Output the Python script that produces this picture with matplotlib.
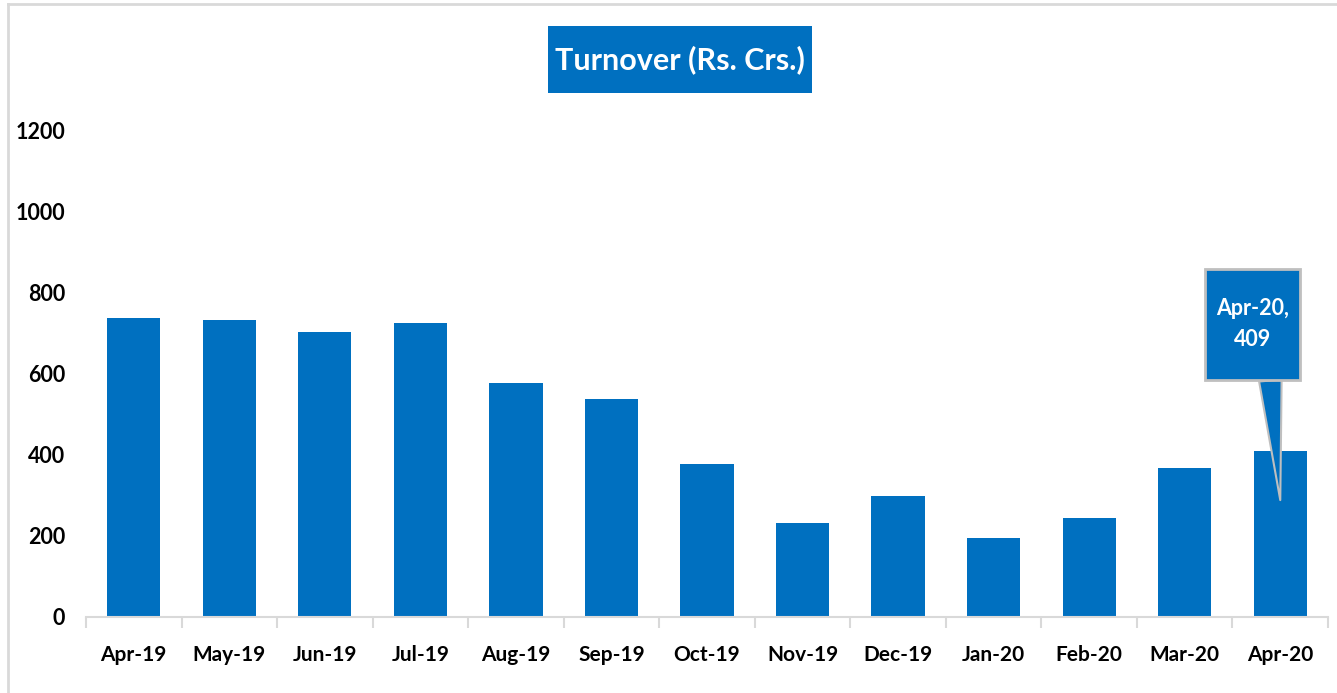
import matplotlib
matplotlib.use("Agg")
import matplotlib.pyplot as plt
from matplotlib.lines import Line2D
from matplotlib.path import Path
from matplotlib.ticker import FixedLocator

months = ["Apr-19", "May-19", "Jun-19", "Jul-19", "Aug-19", "Sep-19", "Oct-19",
          "Nov-19", "Dec-19", "Jan-20", "Feb-20", "Mar-20", "Apr-20"]
turnover = [736, 731, 702, 724, 576, 536, 376, 231, 298, 195, 243, 368, 409]
y_ticks = [0, 200, 400, 600, 800, 1000, 1200]

BLUE = "#0070C0"
GREY = "#D9D9D9"

plt.rcParams["font.family"] = ["Lato", "DejaVu Sans"]
plt.rcParams["font.weight"] = "bold"


def box(padx, pady):
    # rectangle with separate horizontal / vertical padding (in fontsize units)
    def style(x0, y0, width, height, mutation_size):
        dx, dy = padx * mutation_size, pady * mutation_size
        x0, y0 = x0 - dx, y0 - dy
        x1, y1 = x0 + width + 2 * dx, y0 + height + 2 * dy
        return Path([(x0, y0), (x1, y0), (x1, y1), (x0, y1), (x0, y0)], closed=True)
    return style


fig = plt.figure(figsize=(13.37, 6.93), dpi=100)
ax = fig.add_axes([0.0643, 0.1097, 0.9290, 0.7027])

x = list(range(len(months)))
ax.bar(x, turnover, width=0.557, color=BLUE, zorder=2)

ax.set_xlim(-0.5, len(months) - 0.5)
ax.set_ylim(0, 1200)
ax.set_yticks(y_ticks)
ax.set_yticklabels([str(v) for v in y_ticks], fontsize=15.5, fontweight="bold")
ax.set_xticks(x)
ax.set_xticklabels(months, fontsize=15, fontweight="bold")

# category separators on the x axis
ax.xaxis.set_minor_locator(FixedLocator([i - 0.5 for i in range(len(months) + 1)]))
ax.tick_params(axis="x", which="minor", length=8, width=1.5, color=GREY)
ax.tick_params(axis="x", which="major", length=0, pad=20)
ax.tick_params(axis="y", length=0, pad=15)

for side in ["top", "right", "left"]:
    ax.spines[side].set_visible(False)
ax.spines["bottom"].set_color(GREY)
ax.spines["bottom"].set_linewidth(1.5)

# title in a filled box
fig.text(0.5085, 0.914, "Turnover (Rs. Crs.)", ha="center", va="center",
         fontsize=22, fontweight="bold", color="white",
         bbox=dict(boxstyle=box(0.22, 0.62), fc=BLUE, ec="none"))

# callout for the latest month
last = len(months) - 1
ax.annotate(f"{months[last]},\n{turnover[last]}",
            xy=(last, 288), xytext=(last - 0.29, 721), textcoords="data",
            ha="center", va="center", fontsize=15.5, fontweight="bold",
            color="white", linespacing=1.6,
            bbox=dict(boxstyle=box(0.52, 1.35), fc=BLUE, ec="#BFBFBF", lw=2),
            arrowprops=dict(arrowstyle="wedge,tail_width=1.05", fc=BLUE,
                            ec="#BFBFBF", lw=1.5, relpos=(0.71, 0.0),
                            shrinkA=0, shrinkB=0),
            zorder=5)

# outer frame (top and left edges)
fig.add_artist(Line2D([0.006, 1.0], [0.994, 0.994], transform=fig.transFigure,
                      color=GREY, lw=2))
fig.add_artist(Line2D([0.006, 0.006], [0.0, 0.994], transform=fig.transFigure,
                      color=GREY, lw=2))

fig.savefig("out.png", dpi=100)
plt.close(fig)
